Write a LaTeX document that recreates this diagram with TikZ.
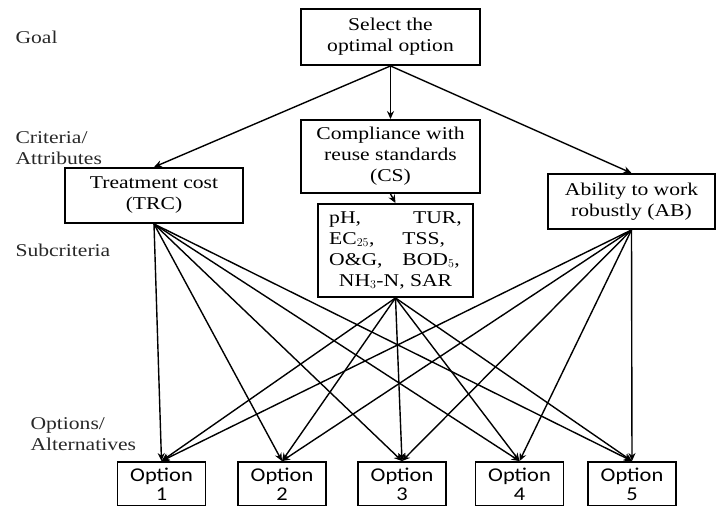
\documentclass[tikz,border=0pt]{standalone}
\usepackage{fontspec}
\setmainfont{Liberation Serif}[FakeStretch=1.2]
\newfontfamily\optfont{Carlito}[FakeStretch=1.15]
\usetikzlibrary{arrows.meta}

\definecolor{lblgray}{RGB}{40,40,40}

\tikzset{
    box/.style={draw, line width=1.9pt, align=center, inner sep=2pt,
        font=\fontsize{18}{21}\selectfont},
    optbox/.style={draw, line width=1.9pt, align=center, inner sep=1pt,
        minimum width=88pt, minimum height=44pt,
        font=\optfont\fontsize{19.5}{19}\selectfont},
    lvl/.style={anchor=west, align=left, text=lblgray,
        font=\fontsize{18}{21}\selectfont},
    arr/.style={-{Stealth[length=8pt, width=7pt]}, line width=1.4pt}
}

\begin{document}
\begin{tikzpicture}[x=1pt, y=-1pt]
    \useasboundingbox (0, 0) rectangle (716, 506);

    % levels
    \node[lvl] (lgoal) at (12, 37) {Goal};
    \node[lvl] (lcrit) at (12, 148) {Criteria/\\Attributes};
    \node[lvl] (lsub) at (12, 250) {Subcriteria};
    \node[lvl] (lopt) at (27, 434) {Options/\\Alternatives};

    % goal and criteria
    \node[box, minimum width=179pt, minimum height=56pt] (goal) at (390.5, 37) {Select the\\optimal option};
    \node[box, minimum width=178pt, minimum height=55pt] (trc) at (154, 195.5) {Treatment cost\\(TRC)};
    \node[box, minimum width=179pt, minimum height=73pt] (cs) at (390.5, 156.5) {Compliance with\\reuse standards\\(CS)};
    \node[box, minimum width=167pt, minimum height=55pt] (ab) at (631.5, 201.5) {Ability to work\\robustly (AB)};

    % subcriteria
    \node[box, minimum width=155pt, minimum height=93pt] (sub) at (395.5, 250.5) {%
        \begin{tabular}{@{}l@{\hspace{1.1em}}l@{}}
            pH, & \hspace{0.6em}TUR,\\
            EC$_{25}$, & TSS,\\
            O\&G, & BOD$_5$,\\
            \multicolumn{2}{@{}c@{}}{NH$_3$-N, SAR}
        \end{tabular}};

    % options
    \node[optbox] (opt1) at (161.5, 484) {Option\\1};
    \node[optbox] (opt2) at (282, 484) {Option\\2};
    \node[optbox] (opt3) at (402, 484) {Option\\3};
    \node[optbox] (opt4) at (519.5, 484) {Option\\4};
    \node[optbox] (opt5) at (632, 484) {Option\\5};

    \draw[arr] (goal.south) -- (trc.north);
    \draw[arr] (goal.south) -- (cs.north);
    \draw[arr] (goal.south) -- (ab.north);
    \draw[arr] (cs.south) -- (sub.north);

    \foreach \src in {trc, sub, ab}
        \foreach \i in {1,...,5}
            \draw[arr] (\src.south) -- (opt\i.north);
\end{tikzpicture}
\end{document}
